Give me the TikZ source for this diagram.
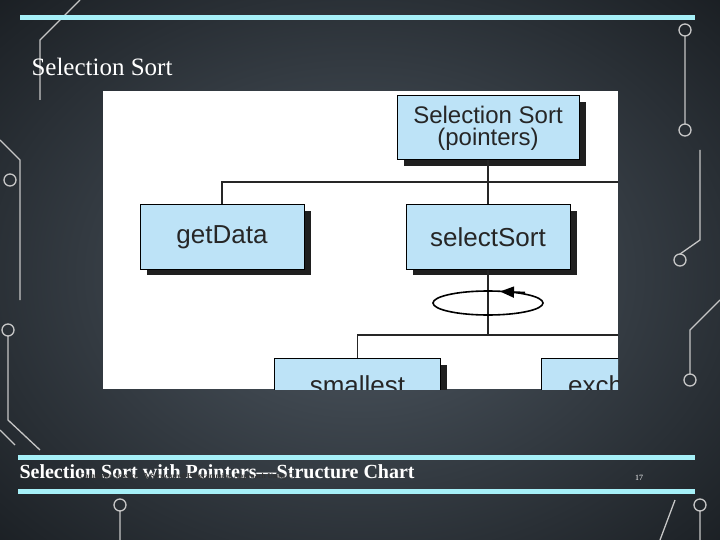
\documentclass[tikz,border=0pt]{standalone}
\usepackage{fontspec}
\setmainfont{Liberation Serif}
\newfontfamily\arialf{Liberation Sans}
\usetikzlibrary{arrows.meta}
\begin{document}
\begin{tikzpicture}[x=1pt,y=-1pt,
  box/.style={draw=black,line width=1pt,fill=boxblue,minimum width=164pt,minimum height=64pt,font=\arialf\fontsize{26}{26}\selectfont,text=black!85,align=center,inner sep=0pt},
  shadow/.style={fill=black!88},
  wire/.style={line width=1.4pt,draw=black!85},
  deco/.style={draw=gray!45,line width=1.3pt},
  bar/.style={draw=barcyan,line width=5pt}]
\definecolor{boxblue}{HTML}{BDE3F7}
\definecolor{barcyan}{HTML}{A6F0F8}
\useasboundingbox (0,0) rectangle (720,540);
\shade[inner color={rgb,255:red,80;green,90;blue,100},outer color={rgb,255:red,22;green,26;blue,30}] (-200,-150) rectangle (920,700);
% circuit decorations
\draw[deco] (0,140) -- (20,160) -- (20,300) (10,180) circle (6);
\draw[deco] (40,100) -- (40,40) -- (80,0) (8,330) circle (6) (8,336) -- (8,420) -- (40,450);
\draw[deco] (0,430) -- (15,445) (120,505) circle (6) (120,511) -- (120,540);
\draw[deco] (685,30) circle (6) (685,130) circle (6) (680,260) circle (6) (690,380) circle (6);
\draw[deco] (685,36) -- (685,124) (700,150) -- (700,240) -- (680,254) (720,300) -- (690,330) -- (690,374);
\draw[deco] (700,505) circle (6) (700,511) -- (700,540) (660,540) -- (675,500);
% bars
\draw[bar] (20,18) -- (695,18);
\draw[bar] (18,457) -- (695,457);
\draw[bar] (18,491) -- (695,491);
\node[anchor=west,text=white,font=\fontsize{25}{26}\selectfont] (title) at (28,67) {Selection Sort};
% diagram
\fill[white] (103,91) rectangle (618,389);
\begin{scope}
\clip (103,91) rectangle (618,389);
\fill[shadow] (404,102) rectangle (586,166);
\fill[shadow] (147,211) rectangle (311,275);
\fill[shadow] (413,211) rectangle (577,275);
\fill[shadow] (281,365) rectangle (447,440);
\fill[shadow] (548,365) rectangle (714,440);
\node[box,minimum width=182pt,font=\arialf\fontsize{24}{22}\selectfont] (top) at (488,128) {Selection Sort\\(pointers)};
\node[box] (gd) at (222,237) {getData};
\node[box] (ss) at (488,237) {selectSort};
\node[box,minimum width=166pt,minimum height=0pt,text height=36pt,text depth=50pt,anchor=north west] (sm) at (274,358) {smallest};
\node[box,minimum width=166pt,minimum height=0pt,text height=36pt,text depth=50pt,anchor=north west] (ex) at (541,358) {exchange};
\coordinate (j1) at (488,182);
\coordinate (r1) at (620,182);
\coordinate (j2) at (488,335);
\coordinate (r2) at (620,335);
\draw[wire] (top.south) -- (j1) -- (ss.north);
\draw[wire] (gd.north) |- (j1) -- (r1);
\draw[wire] (ss.south) -- (j2);
\draw[wire] (sm.north) |- (j2) -- (r2);
\draw[line width=1.6pt] (488,303) ellipse (55 and 12);
\draw[line width=1.6pt,-{Triangle[length=14pt,width=11pt]}] (525,292.5) -- (500,291.5);
\end{scope}
\node[anchor=west,text=white,font=\bfseries\fontsize{20}{22}\selectfont] (foot) at (16,472) {Selection Sort with Pointers—Structure Chart};
\node[anchor=west,text=black!80,font=\bfseries\fontsize{7.5}{8}\selectfont] (src) at (76,477) {Computer Science: A Structured Programming Approach Using C};
\node[text=white,font=\fontsize{8}{9}\selectfont] (pg) at (639,478) {17};
\end{tikzpicture}
\end{document}
